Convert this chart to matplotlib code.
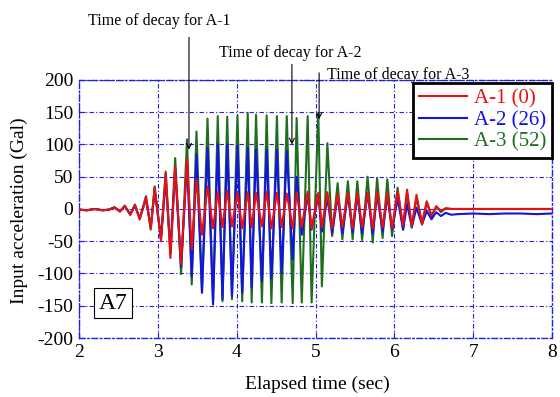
import numpy as np
import matplotlib.pyplot as plt

plt.rcParams['font.family'] = ['Liberation Serif', 'DejaVu Serif']
plt.rcParams['axes.unicode_minus'] = False

# turning points (s), shared by the three records
t_turn = [2.00, 2.10, 2.20, 2.30, 2.38,
          2.45, 2.52, 2.58, 2.65, 2.71, 2.77, 2.85, 2.91, 2.96, 3.04,
          3.10, 3.16, 3.22, 3.295, 3.37, 3.43, 3.49, 3.56, 3.63, 3.70,
          3.76, 3.82, 3.88, 3.94, 4.01, 4.07, 4.14, 4.19, 4.245, 4.32,
          4.38, 4.44, 4.51, 4.57, 4.635, 4.71, 4.76, 4.825, 4.90, 4.95,
          5.035, 5.08, 5.15, 5.21, 5.28, 5.34, 5.41, 5.47, 5.53, 5.59,
          5.66, 5.725, 5.78, 5.85, 5.91, 5.97, 6.04, 6.11, 6.16, 6.22,
          6.28, 6.35, 6.41, 6.47, 6.53, 6.59, 6.65, 6.72,
          6.80, 7.00, 7.20, 7.40, 7.60, 7.80, 8.00]

a1 = [-1, -2, 0, -2, -1,
      2, -4, 5, -9, 6, -16, 18, -30, 33, -50,
      55, -76, 65, -85, 78, -62, 46, -40, 35, -30,
      26, -28, 28, -27, 25, -30, 26, -28, 25, -27,
      27, -30, 25, -28, 24, -30, 26, -28, 27, -30,
      25, -28, 26, -30, 24, -28, 25, -30, 26, -28,
      25, -30, 27, -28, 25, -30, 28, -26, 30, -27,
      22, -24, 12, -10, 4, -3, 1, 0,
      0, 0, 0, 0, 0, 0, 0]

a2 = [-1, -2, 0, -2, -1,
      2, -3, 4, -8, 5, -14, 15, -28, 28, -45,
      45, -65, 60, -90, 72, -105, 85, -130, 95, -148,
      100, -140, 100, -135, 98, -130, 95, -122, 92, -112,
      92, -108, 92, -100, 90, -78, 50, -40, 22, -32,
      20, -35, 18, -38, 20, -38, 22, -36, 22, -38,
      24, -38, 22, -35, 20, -32, 16, -32, 8, -28,
      2, -24, -3, -16, -5, -11, -6, -9,
      -8, -7, -8, -7, -7, -8, -7]

a3 = [-1, -2, 0, -2, -1,
      3, -4, 5, -9, 7, -16, 20, -32, 35, -47,
      58, -70, 79, -101, 108, -117, 120, -129, 140, -145,
      144, -143, 143, -140, 145, -143, 149, -145, 146, -145,
      145, -146, 144, -145, 144, -146, 141, -145, 144, -145,
      149, -120, 102, -42, 40, -47, 43, -47, 43, -48,
      50, -52, 48, -45, 46, -42, 33, -32, 25, -29,
      17, -21, 10, -12, 4, -5, 1, 0,
      0, 0, 0, 0, 0, 0, 0]

labels = ['A-1 (0)', 'A-2 (26)', 'A-3 (52)']
colors = ['#e81010', '#1414e0', '#1e6e1e']

# decay markers: arrow time, head value, top value, text position, label
decay_t = [3.395, 4.70, 5.045]
decay_head = [92, 100, 139]
decay_top = [266, 224, 211]
decay_text_x = [3.013, 4.674, 6.053]
decay_text_y = [292, 242, 207]
decay_text = ['Time of decay for A-1', 'Time of decay for A-2', 'Time of decay for A-3']

fig = plt.figure(figsize=(5.6, 3.97), dpi=100)
ax = fig.add_axes([0.141, 0.1486, 0.845, 0.65])

ax.plot(t_turn, a3, color=colors[2], lw=1.5, label=labels[2], zorder=3)
ax.plot(t_turn, a2, color=colors[1], lw=1.5, label=labels[1], zorder=4)
ax.plot(t_turn, a1, color=colors[0], lw=1.5, label=labels[0], zorder=5)

ax.set_xlim(2, 8)
ax.set_ylim(-200, 200)
ax.set_xticks(range(2, 9))
ax.set_yticks(range(-200, 201, 50))
ax.tick_params(direction='in', length=4, color='#2020e0', labelsize=14, pad=4)

grid_ls = (0, (4, 2, 1, 2))
ax.grid(True, color='#2020e0', ls=grid_ls, lw=0.8)
for s in ax.spines.values():
    s.set_color('#2020e0')
    s.set_linestyle(grid_ls)
    s.set_linewidth(1.0)

fig.text(0.567, 0.033, 'Elapsed time (sec)', ha='center', va='center', fontsize=14)
fig.text(0.034, 0.47, 'Input acceleration (Gal)', ha='center', va='center',
         rotation=90, fontsize=14)

for i in range(3):
    ax.annotate('', xy=(decay_t[i], decay_head[i]), xytext=(decay_t[i], decay_top[i]),
                arrowprops=dict(arrowstyle='->', lw=0.8, color='k',
                                shrinkA=0, shrinkB=0, mutation_scale=9),
                annotation_clip=False, zorder=6)
    ax.text(decay_text_x[i], decay_text_y[i], decay_text[i], ha='center', va='center',
            fontsize=11.5, clip_on=False)

ax.text(2.43, -146, 'A7', ha='center', va='center', fontsize=17, zorder=7,
        bbox=dict(boxstyle='square,pad=0.2', fc='white', ec='black', lw=0.8))

h, l = ax.get_legend_handles_labels()
order = [2, 1, 0]
leg = ax.legend([h[k] for k in order], [l[k] for k in order], loc='upper right',
                bbox_to_anchor=(1.0, 0.99), borderaxespad=0, fontsize=15,
                labelcolor='linecolor', fancybox=False, framealpha=1,
                edgecolor='black', handlelength=2.3, handletextpad=0.3,
                borderpad=0.3, labelspacing=0.1)
leg.get_frame().set_linewidth(2)
leg.set_zorder(8)

fig.savefig('out.png', dpi=100)
